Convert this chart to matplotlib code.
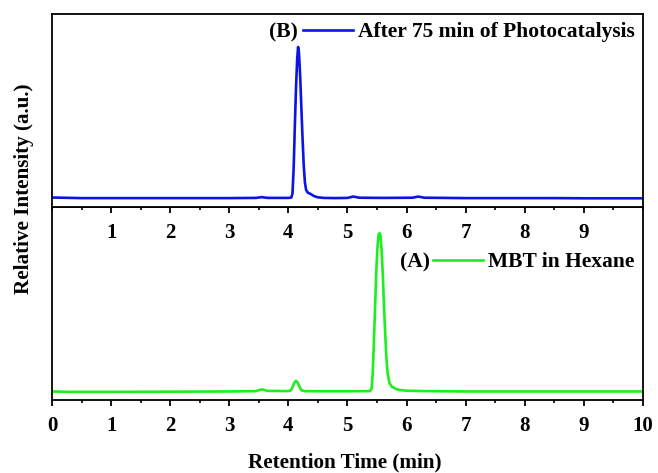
import matplotlib
matplotlib.use('Agg')
import matplotlib.pyplot as plt
from matplotlib.ticker import MultipleLocator

plt.rcParams['font.family'] = ['Liberation Serif', 'DejaVu Serif']
plt.rcParams['font.weight'] = 'bold'

# (B) after 75 min photocatalysis
t_b = [0.0, 0.5, 1.0, 2.0, 3.0, 3.45, 3.55, 3.65, 4.0, 4.05, 4.07, 4.09, 4.11, 4.13,
       4.15, 4.165, 4.18, 4.20, 4.22, 4.24, 4.26, 4.28, 4.30, 4.33, 4.38, 4.43, 4.5,
       4.6, 4.8, 5.0, 5.1, 5.2, 5.6, 6.1, 6.2, 6.3, 7.0, 8.0, 8.5, 9.0, 10.0]
i_b = [0.050, 0.047, 0.047, 0.047, 0.047, 0.048, 0.052, 0.048, 0.048, 0.050, 0.07,
       0.20, 0.42, 0.62, 0.77, 0.83, 0.80, 0.68, 0.52, 0.36, 0.22, 0.13, 0.09, 0.075,
       0.068, 0.058, 0.051, 0.048, 0.047, 0.048, 0.055, 0.049, 0.048, 0.049, 0.055,
       0.049, 0.047, 0.047, 0.047, 0.046, 0.046]

# (A) MBT in hexane
t_a = [0.0, 0.3, 1.0, 2.0, 3.0, 3.45, 3.55, 3.65, 4.0, 4.04, 4.07, 4.10, 4.13, 4.16,
       4.19, 4.22, 4.27, 4.5, 5.0, 5.38, 5.41, 5.43, 5.45, 5.47, 5.49, 5.51, 5.53,
       5.545, 5.56, 5.58, 5.60, 5.62, 5.64, 5.66, 5.68, 5.71, 5.75, 5.82, 5.9, 6.0,
       6.3, 7.0, 8.0, 9.0, 10.0]
i_a = [0.045, 0.043, 0.043, 0.044, 0.045, 0.047, 0.056, 0.048, 0.047, 0.050, 0.065,
       0.090, 0.100, 0.090, 0.068, 0.052, 0.047, 0.046, 0.046, 0.047, 0.06, 0.15, 0.32,
       0.50, 0.68, 0.80, 0.86, 0.865, 0.85, 0.77, 0.64, 0.48, 0.34, 0.22, 0.14, 0.09,
       0.07, 0.058, 0.052, 0.049, 0.047, 0.045, 0.045, 0.045, 0.045]

top_ticks = [1, 2, 3, 4, 5, 6, 7, 8, 9]
bottom_ticks = [0, 1, 2, 3, 4, 5, 6, 7, 8, 9, 10]

fig = plt.figure(figsize=(6.58, 4.73), dpi=100)
gs = fig.add_gridspec(2, 1, hspace=0, left=0.079, right=0.977, top=0.970, bottom=0.154)
ax1 = fig.add_subplot(gs[0])
ax2 = fig.add_subplot(gs[1])
ax1.set_zorder(3)  # keep top panel's tick labels above lower panel

ax1.plot(t_b, i_b, color='#0a14e6', lw=1.9, label='After 75 min of Photocatalysis')
ax2.plot(t_a, i_a, color='#1cef1c', lw=1.9, label='MBT in Hexane')

for ax, ticks in ((ax1, top_ticks), (ax2, bottom_ticks)):
    ax.set_xlim(0, 10)
    ax.set_ylim(0, 1)
    ax.set_yticks([])
    ax.set_xticks(ticks)
    ax.xaxis.set_minor_locator(MultipleLocator(0.5))
    ax.tick_params(axis='x', which='major', direction='out', length=4.5, width=1.3,
                   labelsize=15, pad=7)
    ax.tick_params(axis='x', which='minor', direction='out', length=2.5, width=1.2)
    for s in ax.spines.values():
        s.set_linewidth(1.3)
    for lab in ax.get_xticklabels():
        lab.set_fontweight('bold')

ax1.legend(loc='center left', bbox_to_anchor=(0.425, 0.907), frameon=False,
           borderpad=0, borderaxespad=0, handlelength=2.3, handletextpad=0.23,
           prop={'size': 15.5, 'weight': 'bold'})
ax1.text(0.416, 0.907, '(B)', transform=ax1.transAxes, ha='right', va='center',
         fontsize=15.5, fontweight='bold')

ax2.legend(loc='center left', bbox_to_anchor=(0.645, 0.715), frameon=False,
           borderpad=0, borderaxespad=0, handlelength=2.3, handletextpad=0.23,
           prop={'size': 15.5, 'weight': 'bold'})
ax2.text(0.640, 0.715, '(A)', transform=ax2.transAxes, ha='right', va='center',
         fontsize=15.5, fontweight='bold')

fig.text(0.036, 0.60, 'Relative Intensity (a.u.)', rotation=90, ha='center', va='center',
         fontsize=15.2, fontweight='bold')
fig.text(0.524, 0.023, 'Retention Time (min)', ha='center', va='center',
         fontsize=15.2, fontweight='bold')

plt.savefig('out.png', dpi=100)
